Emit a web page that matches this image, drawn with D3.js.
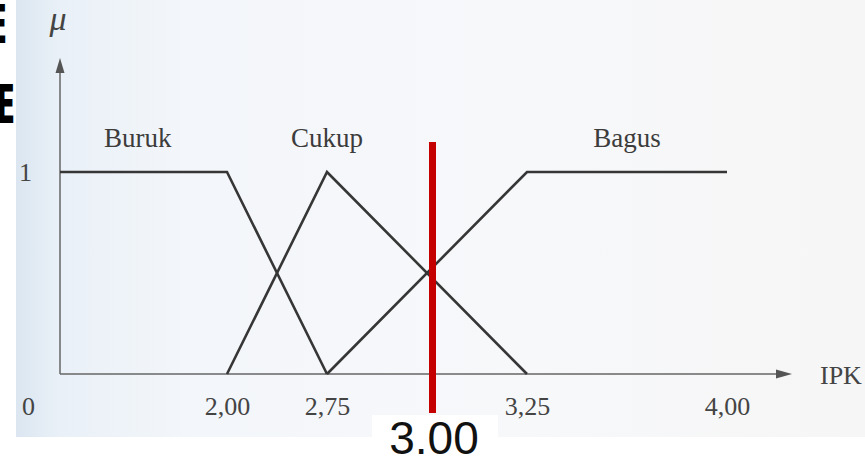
<!DOCTYPE html>
<html>
<head>
<meta charset="utf-8">
<script src="https://cdn.jsdelivr.net/npm/d3@7"></script>
<style>
  html, body { margin: 0; padding: 0; background: #ffffff; }
  svg { display: block; }
</style>
</head>
<body>
<svg id="chart" width="865" height="460"></svg>
<script>
// ---------------- data ----------------
const xTickValues = [0, 2.00, 2.75, 3.25, 4.00];
const yTickValues = [1];
const setNames = ["Buruk", "Cukup", "Bagus"];
const burukX = [0, 2.00, 2.75];
const burukMu = [1, 1, 0];
const cukupX = [2.00, 2.75, 3.25];
const cukupMu = [0, 1, 0];
const bagusX = [2.75, 3.25, 4.00];
const bagusMu = [0, 1, 1];
const labelAt = [0.93, 2.75, 3.625];   // x position (IPK units) of each set name
const markerValue = 3.00;
const xTitle = "IPK";
const yTitle = "\u03bc";

// ---------------- layout ----------------
const svg = d3.select("#chart");
const W = 865, H = 460;
// breakpoints of the diagram are not drawn to scale -> piecewise linear scale
const x = d3.scaleLinear().domain(xTickValues).range([60, 227, 327, 527, 727]);
const y = d3.scaleLinear().domain([0, 1]).range([374, 172]);

const serif = "'Liberation Serif', 'Times New Roman', serif";
const ink = "#363636";

// scanned page background
const defs = svg.append("defs");
const grad = defs.append("linearGradient").attr("id", "scan").attr("x1", "0").attr("x2", "1").attr("y1", "0").attr("y2", "0");
[["0%", "#dbe6f1"], ["5%", "#e9f0f7"], ["20%", "#f3f6fa"], ["60%", "#f7f8fa"], ["100%", "#f6f6f6"]]
  .forEach(([o, c]) => grad.append("stop").attr("offset", o).attr("stop-color", c));
svg.append("rect").attr("x", 16).attr("y", 0).attr("width", W - 16).attr("height", 437).attr("fill", "url(#scan)");

// ---------------- axes ----------------
const g = svg.append("g");
// y axis line + arrow
g.append("line").attr("x1", x(0)).attr("x2", x(0)).attr("y1", y(0)).attr("y2", 70)
  .attr("stroke", "#666").attr("stroke-width", 1.5);
g.append("path").attr("d", d3.line()([[x(0), 58], [x(0) - 4.5, 73], [x(0) + 4.5, 73]]) + "Z").attr("fill", "#555");
// x axis line + arrow
g.append("line").attr("x1", x(0)).attr("x2", 780).attr("y1", y(0)).attr("y2", y(0))
  .attr("stroke", "#666").attr("stroke-width", 1.5);
g.append("path").attr("d", d3.line()([[792, y(0)], [776, y(0) - 4.5], [776, y(0) + 4.5]]) + "Z").attr("fill", "#555");

const fmt = d => d === 0 ? "0" : d3.format(".2f")(d).replace(".", ",");
const xAxis = g.append("g").attr("transform", `translate(0,${y(0)})`)
  .call(d3.axisBottom(x).tickValues(xTickValues).tickFormat(fmt).tickSize(0).tickPadding(23));
xAxis.select(".domain").remove();
xAxis.selectAll("text").attr("font-family", serif).attr("font-size", 26).attr("fill", "#444");
xAxis.selectAll(".tick").filter(d => d === 0).select("text").attr("dx", -32);

const yAxis = g.append("g").attr("transform", `translate(${x(0)},0)`)
  .call(d3.axisLeft(y).tickValues(yTickValues).tickFormat(d3.format("d")).tickSize(0).tickPadding(28));
yAxis.select(".domain").remove();
yAxis.selectAll("text").attr("font-family", serif).attr("font-size", 26).attr("fill", "#444");

g.append("text").attr("x", 820).attr("y", 384).text(xTitle)
  .attr("font-family", serif).attr("font-size", 26).attr("fill", "#444");
g.append("text").attr("x", 58).attr("y", 30).attr("text-anchor", "middle").text(yTitle)
  .attr("font-family", serif).attr("font-style", "italic").attr("font-size", 34).attr("fill", "#444");

// ---------------- membership functions ----------------
const line = d3.line().x(d => x(d[0])).y(d => y(d[1]));
const series = [d3.zip(burukX, burukMu), d3.zip(cukupX, cukupMu), d3.zip(bagusX, bagusMu)];
g.selectAll("path.mf").data(series).join("path").attr("class", "mf")
  .attr("d", line).attr("fill", "none").attr("stroke", ink).attr("stroke-width", 2.6)
  .attr("stroke-linejoin", "miter");

g.selectAll("text.set").data(setNames).join("text").attr("class", "set")
  .attr("x", (d, i) => x(labelAt[i])).attr("y", 147).attr("text-anchor", "middle")
  .attr("font-family", serif).attr("font-size", 27).attr("fill", "#3c3c3c").text(d => d);

// ---------------- overlay: marker at 3.00 ----------------
svg.append("rect").attr("x", 372).attr("y", 415).attr("width", 126).attr("height", 45).attr("fill", "#ffffff");
svg.append("line").attr("x1", x(markerValue) + 5.5).attr("x2", x(markerValue) + 5.5)
  .attr("y1", y(1) - 30).attr("y2", y(0) + 39)
  .attr("stroke", "#c40000").attr("stroke-width", 7);
svg.append("text").attr("x", x(markerValue) + 7).attr("y", 454).attr("text-anchor", "middle")
  .attr("font-family", "'Liberation Sans', Arial, sans-serif").attr("font-size", 46).attr("fill", "#111")
  .text(d3.format(".2f")(markerValue));

// ---------------- overlay: cut-off slide text at left ----------------
svg.append("text").attr("transform", "translate(-11,43) scale(0.5,1)")
  .attr("font-family", "'DejaVu Sans', sans-serif").attr("font-weight", "bold").attr("font-size", 53).attr("fill", "#000").text("E");
svg.append("text").attr("transform", "translate(-3,123) scale(0.5,1)")
  .attr("font-family", "'DejaVu Sans', sans-serif").attr("font-weight", "bold").attr("font-size", 53).attr("fill", "#000").text("E");
</script>
</body>
</html>
